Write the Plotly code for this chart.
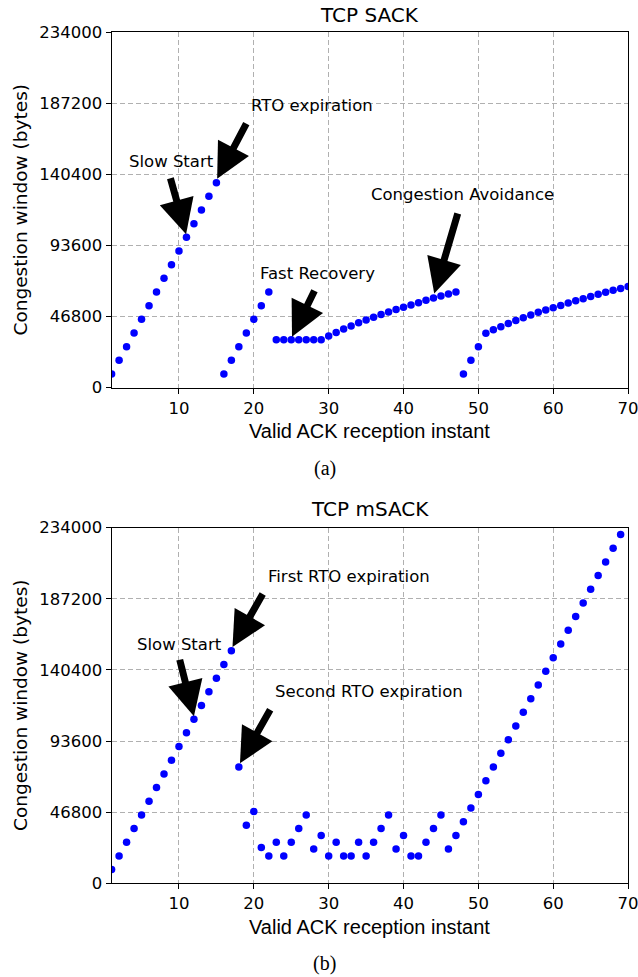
import plotly.graph_objects as go

# ---------------- data ----------------
sack_x = list(range(1, 71))
sack_cwnd = [9000, 18000, 27000, 36000, 45000, 54000, 63000, 72000, 81000, 90000,
             99000, 108000, 117000, 126000, 135000,
             9000, 18000, 27000, 36000, 45000, 54000, 63000,
             31500, 31500, 31500, 31500, 31500, 31500, 31500,
             34100, 36400, 38700, 40700, 42700, 44600, 46400, 48200, 49900, 51500,
             53000, 54500, 56000, 57500, 59000, 60400, 61700, 63000,
             9000, 18000, 27000, 35800, 38200, 40200, 42300, 44300, 46100, 47900,
             49600, 51200, 52700, 54200, 55800, 57300, 58600, 60000, 61500, 62800,
             64100, 65300, 66600]

msack_x = list(range(1, 70))
msack_cwnd = [9000, 18000, 27000, 36000, 45000, 54000, 63000, 72000, 81000, 90000,
              99000, 108000, 117000, 126000, 135000, 144000, 153000,
              76500, 38250, 47250, 23625, 18000, 27000, 18000, 27000, 36000, 45000,
              22500, 31500, 18000, 27000, 18000, 18000, 27000, 18000, 27000, 36000,
              45000, 22500, 31500, 18000, 18000, 27000, 36000, 45000, 22500, 31500,
              40500, 49500, 58500, 67500, 76500, 85500, 94500, 103500, 112500, 121500,
              130500, 139500, 148500, 157500, 166500, 175500, 184500, 193500, 202500,
              211500, 220500, 229500]

y_ticks = [0, 46800, 93600, 140400, 187200, 234000]
x_ticks = [10, 20, 30, 40, 50, 60, 70]
titles = ["TCP SACK", "TCP mSACK"]
captions = ["(a)", "(b)"]
x_title = "Valid ACK reception instant"
y_title = "Congestion window (bytes)"

# annotations: (text, text_x, text_y, tail_x, tail_y, tip_x, tip_y)
notes_sack = [
    ("RTO expiration", 19.4, 186000, 19.1, 174900, 15.1, 137500),
    ("Slow Start", 3.1, 148900, 8.8, 138900, 10.95, 101000),
    ("Fast Recovery", 20.5, 75300, 28.2, 64800, 25.1, 33500),
    ("Congestion Avoidance", 35.4, 126900, 47.3, 115700, 44.1, 62000),
]
notes_msack = [
    ("First RTO expiration", 21.6, 201800, 21.3, 191300, 17.15, 155500),
    ("Slow Start", 4.1, 157000, 10.05, 148100, 12.0, 110000),
    ("Second RTO expiration", 22.6, 126000, 22.3, 115200, 18.15, 79000),
]

# ---------------- figure ----------------
W, H = 638, 977
xdom = [111.6 / W, 628.1 / W]
ydoms = [[1 - 387.7 / H, 1 - 32.3 / H], [1 - 883.3 / H, 1 - 527.7 / H]]

fig = go.Figure()
tick_font = dict(family="DejaVu Sans", size=16.5, color="black")

for i, (xs, ys) in enumerate([(sack_x, sack_cwnd), (msack_x, msack_cwnd)]):
    sfx = "" if i == 0 else "2"
    fig.add_trace(go.Scatter(x=xs, y=ys, mode="markers",
                             marker=dict(color="#0000ff", size=7.5, line=dict(width=0)),
                             xaxis="x" + sfx, yaxis="y" + sfx, showlegend=False))
    axcommon = dict(showline=True, mirror=True, linecolor="black", linewidth=1.2,
                    ticks="outside", ticklen=5, tickwidth=1, tickcolor="black",
                    showgrid=True, gridcolor="#b0b0b0", gridwidth=1, griddash="5px,3px",
                    zeroline=False, tickfont=tick_font, automargin=False,
                    ticklabeloverflow="allow")
    fig.update_layout(**{
        "xaxis" + sfx: dict(domain=xdom, range=[1, 70], tickvals=x_ticks,
                            anchor="y" + sfx, **axcommon),
        "yaxis" + sfx: dict(domain=ydoms[i], range=[0, 234000], tickvals=y_ticks,
                            ticktext=[str(v) for v in y_ticks],
                            anchor="x" + sfx, **axcommon),
    })

ann = []
title_y = [15, 509]
xlab_y = [431, 927]
cap_y = [468, 963]
cx = (111.6 + 628.1) / 2 / W
for i in range(2):
    ann.append(dict(text=titles[i], x=cx, y=1 - title_y[i] / H, xref="paper", yref="paper",
                    showarrow=False, font=dict(family="DejaVu Sans", size=20, color="black"),
                    xanchor="center", yanchor="middle"))
    ann.append(dict(text=x_title, x=cx, y=1 - xlab_y[i] / H, xref="paper", yref="paper",
                    showarrow=False, font=dict(family="Liberation Sans", size=20, color="black"),
                    xanchor="center", yanchor="middle"))
    ann.append(dict(text=captions[i], x=cx - 45 / W, y=1 - cap_y[i] / H, xref="paper", yref="paper",
                    showarrow=False, font=dict(family="Liberation Serif", size=20, color="black"),
                    xanchor="center", yanchor="middle"))
    yc = (ydoms[i][0] + ydoms[i][1]) / 2
    ann.append(dict(text=y_title, x=20.5 / W, y=yc, xref="paper", yref="paper",
                    showarrow=False, textangle=-90,
                    font=dict(family="DejaVu Sans", size=18.5, color="black"),
                    xanchor="center", yanchor="middle"))

for i, notes in enumerate([notes_sack, notes_msack]):
    sfx = "" if i == 0 else "2"
    for (t, tx, ty, ax, ay, px, py) in notes:
        ann.append(dict(text=t, x=tx, y=ty, xref="x" + sfx, yref="y" + sfx,
                        showarrow=False, xanchor="left", yanchor="middle",
                        font=dict(family="DejaVu Sans", size=16.5, color="black")))
        ann.append(dict(text="", x=px, y=py, ax=ax, ay=ay,
                        xref="x" + sfx, yref="y" + sfx, axref="x" + sfx, ayref="y" + sfx,
                        showarrow=True, arrowhead=2, arrowsize=1.0, arrowwidth=7,
                        arrowcolor="black", standoff=0, startstandoff=0))

fig.update_layout(width=W, height=H, margin=dict(l=0, r=0, t=0, b=0),
                  paper_bgcolor="white", plot_bgcolor="white", annotations=ann)

fig.write_html("out.html")
